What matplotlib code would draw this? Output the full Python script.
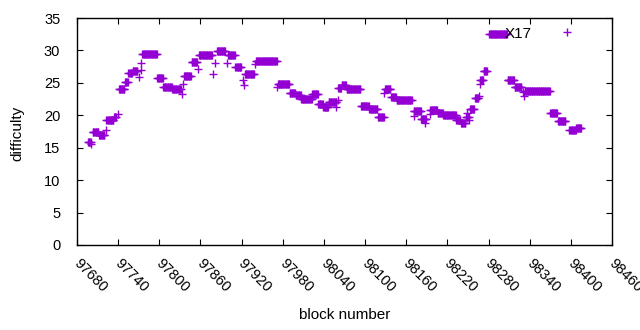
import numpy as np
import matplotlib
matplotlib.use("Agg")
import matplotlib.pyplot as plt
import matplotlib.transforms as mtransforms

# Runs of constant difficulty (first block, last block, difficulty)
run_start = [97696, 97703, 97712, 97723, 97734, 97741, 97750, 97755, 97761, 97775,
             97797, 97806, 97819, 97836, 97847, 97858, 97884, 97900, 97911, 97925,
             97941, 97973, 97990, 97999, 98007, 98023, 98032, 98039, 98047, 98061,
             98066, 98073, 98094, 98106, 98119, 98129, 98138, 98146, 98154, 98171,
             98182, 98195, 98206, 98214, 98233, 98240, 98247, 98253, 98260, 98268,
             98273, 98281, 98308, 98318, 98333, 98370, 98381, 98398, 98408]
run_end = [97700, 97711, 97720, 97733, 97737, 97749, 97754, 97760, 97768, 97796,
           97805, 97818, 97831, 97846, 97855, 97877, 97896, 97910, 97919, 97938,
           97971, 97989, 97998, 98006, 98022, 98031, 98038, 98046, 98058, 98065,
           98072, 98093, 98105, 98118, 98127, 98137, 98145, 98153, 98168, 98181,
           98189, 98205, 98213, 98232, 98239, 98246, 98251, 98259, 98265, 98272,
           98278, 98307, 98317, 98328, 98369, 98380, 98392, 98407, 98415]
run_difficulty = [15.9, 17.4, 17.0, 19.3, 19.7, 24.0, 25.1, 26.5, 26.8, 29.5,
                  25.8, 24.4, 24.0, 26.1, 28.2, 29.3, 29.9, 29.3, 27.4, 26.4,
                  28.4, 24.8, 23.5, 23.2, 22.5, 23.3, 21.8, 21.3, 22.0, 24.2,
                  24.7, 24.1, 21.5, 21.0, 19.8, 24.1, 22.8, 22.3, 22.4, 20.7,
                  19.4, 20.8, 20.4, 20.1, 19.3, 18.8, 19.7, 20.9, 22.7, 25.5,
                  26.8, 32.6, 25.4, 24.3, 23.8, 20.3, 19.1, 17.7, 18.1]

# Isolated blocks
single_block = [97701, 97722, 97740, 97770, 97773, 97774, 97833, 97835, 97857, 97879,
                97881, 97898, 97922, 97924, 97940, 97972, 98057, 98060, 98128, 98171,
                98188, 98195, 98249, 98251, 98266, 98267, 98330, 98331]
single_difficulty = [15.5, 17.8, 20.2, 25.9, 28.0, 27.0, 23.3, 24.9, 27.2, 26.3,
                     28.1, 28.0, 25.5, 24.7, 27.9, 24.4, 21.3, 22.4, 23.5, 19.9,
                     18.8, 20.2, 20.3, 19.2, 22.9, 24.9, 23.6, 22.9]

x_ticks = list(range(97680, 98461, 60))
y_ticks = list(range(0, 36, 5))

blocks, diffs = [], []
for s, e, d in zip(run_start, run_end, run_difficulty):
    for b in range(s, e + 1):
        blocks.append(b)
        diffs.append(d)
blocks += single_block
diffs += single_difficulty

plt.rcParams['font.family'] = ['Liberation Sans', 'DejaVu Sans']
plt.rcParams['font.size'] = 10.5

fig = plt.figure(figsize=(6.4, 3.3), dpi=100)
ax = fig.add_axes([77/640, 1-245/330, (612-77)/640, (245-18)/330])

ax.plot(blocks, diffs, linestyle='none', marker='+', markersize=5.3,
        markeredgewidth=1.0, color='#9400D3', label='X17')

ax.set_xlim(97680, 98460)
ax.set_ylim(0, 35)
ax.set_xticks(x_ticks)
ax.set_yticks(y_ticks)
ax.set_xticklabels([str(t) for t in x_ticks], rotation=-45, ha='left', va='top',
                   rotation_mode='anchor')
ax.tick_params(direction='in', top=True, right=True, length=4, width=0.8,
               labelsize=10.5, colors='black')
ax.tick_params(axis='x', pad=8)
ax.tick_params(axis='y', pad=12)
shift = mtransforms.ScaledTranslation(4/100, 0, fig.dpi_scale_trans)
for lab in ax.get_xticklabels():
    lab.set_transform(lab.get_transform() + shift)
for sp in ax.spines.values():
    sp.set_linewidth(1.0)
    sp.set_color('black')

ax.set_xlabel('block number', fontsize=11)
ax.set_ylabel('difficulty', fontsize=11)
ax.xaxis.set_label_coords(0.5, (245-315)/227)
ax.xaxis.label.set_va('center')
ax.yaxis.set_label_coords((17-77)/535, 0.49)
ax.yaxis.label.set_va('center')

ax.legend(loc='upper right', bbox_to_anchor=(596/640, 1-13/330),
          bbox_transform=fig.transFigure, frameon=False, markerfirst=False,
          handletextpad=1.3, handlelength=2.0, borderpad=0.4, fontsize=11)

fig.savefig('out.png', dpi=100)
